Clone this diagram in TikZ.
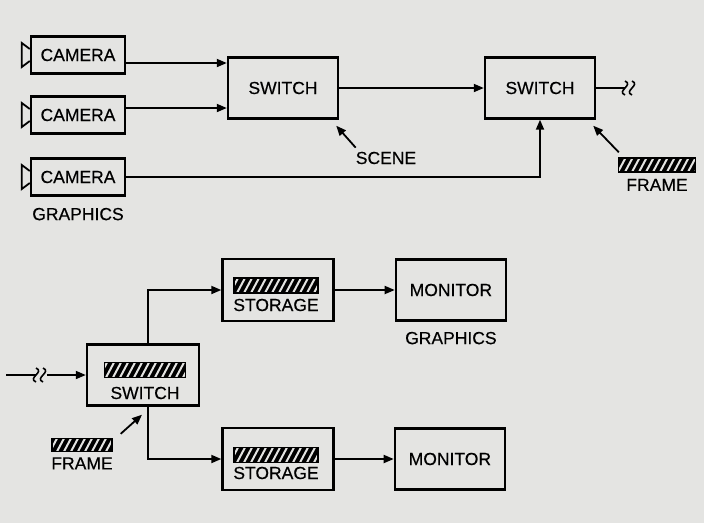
\documentclass[tikz,border=0pt]{standalone}
\usepackage{fontspec}
\setmainfont{Liberation Sans}
\newfontfamily\lettering{Liberation Sans}[FakeBold=0.35]
\usepackage{xcolor}
\definecolor{paper}{HTML}{E4E4E2}
\usetikzlibrary{arrows.meta,positioning,calc}

\begin{document}
\begin{tikzpicture}[
  x=1pt, y=-1pt,
  lbl/.style={font=\lettering\fontsize{17.5}{20}\selectfont, inner sep=0pt},
  blok/.style={draw, line width=2.4pt, minimum width=110pt, minimum height=61pt,
               inner sep=0pt, lbl},
  camera/.style={blok, minimum width=94pt, minimum height=37pt},
  hatch/.style={draw, fill=black, line width=1.4pt, minimum width=84pt,
                minimum height=15pt, inner sep=0pt,
                path picture={\foreach \k in {-14,...,14}
                  \draw[paper, line width=2pt]
                    ([xshift=\k*7pt-4pt]path picture bounding box.south) -- ++(8pt,15pt);}},
  wire/.style={line width=1.8pt},
  arr/.style={wire, -{Triangle[length=10pt,width=8pt]}},
  brk/.pic={\draw[line width=1.6pt] (0,-7) .. controls (9,-3) and (-9,3) .. (0,7);
            \draw[line width=1.6pt] (7,-7) .. controls (16,-3) and (-2,3) .. (7,7);}
]
\fill[paper] (0,0) rectangle (704,523);
\useasboundingbox (0,0) rectangle (704,523);

% top: scene and graphics cameras
\node[camera] (cam1) at (78,55) {CAMERA};
\node[camera] (cam2) at (78,115) {CAMERA};
\node[camera] (cam3) at (78,177) {CAMERA};
\node[lbl, below=11pt of cam3] (gfx1) {GRAPHICS};
\foreach \c in {cam1,cam2,cam3}
  \draw[line width=1.8pt] ([yshift=6pt]\c.west) -- ++(-8pt,6pt) -- ++(0pt,-24pt) -- ++(8pt,6pt);

\node[blok] (sw1) at (283,88) {SWITCH};
\node[blok] (sw2) at (540,88) {SWITCH};
\node[lbl] (scn) at (386,158) {SCENE};
\node[hatch, minimum width=77pt, minimum height=14pt] (frm1) at (657,165) {};
\node[lbl, below=6pt of frm1] (frm1t) {FRAME};
\coordinate (brk1) at (625,88);

% bottom: frame switch and storage
\coordinate (in) at (6,375);
\coordinate (brk2) at (36,375);
\coordinate (brk2e) at (47,375);
\node[blok, minimum width=112pt] (sw3) at (143,375) {};
\node[hatch, minimum width=81pt] (sw3b) at (145,370) {};
\node[lbl] (sw3t) at (145,393) {SWITCH};
\node[hatch, minimum width=60pt, minimum height=13pt] (frm2) at (82,445) {};
\node[lbl, below=5pt of frm2] (frm2t) {FRAME};

\node[blok, minimum width=111pt, minimum height=62pt] (st1) at (278,290) {};
\node[hatch] (st1b) at (276,285.5) {};
\node[lbl] (st1t) at (276,305) {STORAGE};
\node[blok, minimum width=111pt, minimum height=62pt] (st2) at (278,459) {};
\node[hatch] (st2b) at (276,455) {};
\node[lbl] (st2t) at (276,473) {STORAGE};
\node[blok, right=60pt of st1] (mon1) {MONITOR};
\node[lbl, below=10pt of mon1] (gfx2) {GRAPHICS};
\node[blok, right=59pt of st2] (mon2) {MONITOR};

% connectors
\draw[arr] ([yshift=-8pt]cam1.east) coordinate (c1) -- (c1 -| sw1.west);
\draw[arr] ([yshift=7pt]cam2.east) coordinate (c2) -- (c2 -| sw1.west);
\draw[arr] (cam3.east) -| (sw2.south);
\draw[arr] (sw1.east) -- (sw2.west);
\draw[wire] (sw2.east) -- (brk1);
\pic at (brk1) {brk};
\draw[arr] ([shift={(0pt,4pt)}]scn.north west) -- ([shift={(-3pt,-6pt)}]sw1.south east);
\draw[arr] ([shift={(1pt,5pt)}]frm1.north west) -- ([shift={(-3pt,-6pt)}]sw2.south east);

\draw[wire] (in) -- (brk2);
\pic at (brk2) {brk};
\draw[arr] (brk2e) -- (sw3.west);
\draw[arr] ([xshift=5pt]sw3.north) |- (st1.west);
\draw[arr] ([xshift=5pt]sw3.south) |- (st2.west);
\draw[arr] (st1.east) -- (st1.east -| mon1.west);
\draw[arr] (st2.east) -- (st2.east -| mon2.west);
\draw[arr] ([shift={(8pt,4pt)}]frm2.north east) -- ([shift={(-1pt,-8pt)}]sw3.south);
\end{tikzpicture}
\end{document}
